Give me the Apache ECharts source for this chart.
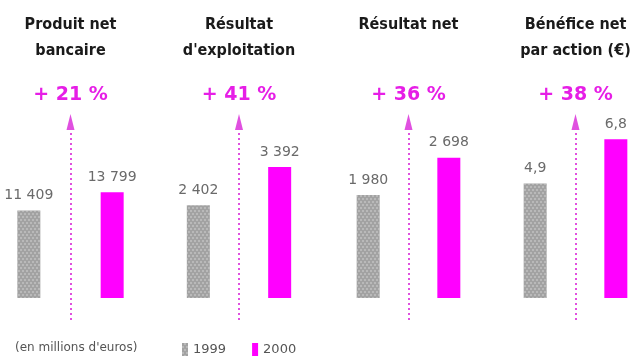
<!DOCTYPE html>
<html>
<head>
<meta charset="utf-8">
<script src="https://cdn.jsdelivr.net/npm/echarts@6/dist/echarts.min.js"></script>
<style>
html, body { margin: 0; padding: 0; background: #fff; }
#main { width: 638px; height: 362px; }
</style>
</head>
<body>
<div id="main"></div>
<script>
// chart data
var titles = ['Produit net\nbancaire', "Résultat\nd'exploitation", 'Résultat net', 'Bénéfice net\npar action (€)'];
var values1999 = [11409, 2402, 1980, 4.9];
var values2000 = [13799, 3392, 2698, 6.8];
var growth = ['+ 21 %', '+ 41 %', '+ 36 %', '+ 38 %'];
var slots = ['1999', 'variation', '2000'];
var axisMax = [22977, 4560, 3385, 7.54];
var unitText = "(en millions d'euros)";

// panel layout
var gridLeft = [8, 178, 348, 515];
var gridWidth = [125, 122, 121, 121];

var chart = echarts.init(document.getElementById('main'));

function fmt(v) {
	if (v % 1 !== 0) return String(v).replace('.', ',');
	return String(v).replace(/\B(?=(\d{3})+(?!\d))/g, ' ');
}

var labelStyle = {
	show: true,
	position: 'top',
	distance: 8,
	fontFamily: 'DejaVu Sans',
	fontSize: 14,
	color: '#6a6a6a',
	formatter: function (p) { return fmt(p.value); }
};

var grids = [], xAxes = [], yAxes = [], series = [], title = [];

titles.forEach(function (t, i) {
	var cx = gridLeft[i] + gridWidth[i] / 2;
	grids.push({ left: gridLeft[i], width: gridWidth[i], top: 122, bottom: 42 });
	xAxes.push({ type: 'category', gridIndex: i, data: slots, show: false });
	yAxes.push({ type: 'value', gridIndex: i, min: -axisMax[i] / 8, max: axisMax[i], show: false });

	title.push({
		text: t, left: cx, top: 12, textAlign: 'center', padding: 0,
		textStyle: { fontFamily: 'DejaVu Sans Condensed', fontWeight: 'bold', fontSize: 16, lineHeight: 26, color: '#1a1a1a' }
	});
	title.push({
		text: growth[i], left: cx, top: 86, textAlign: 'center', padding: 0,
		textStyle: { fontFamily: 'DejaVu Sans', fontWeight: 'bold', fontSize: 19, color: '#e61ee6' }
	});

	series.push({
		name: '1999', type: 'bar', xAxisIndex: i, yAxisIndex: i,
		barWidth: 23, barGap: '-100%',
		data: slots.map(function (s, j) { return j === 0 ? values1999[i] : '-'; }),
		itemStyle: {
			color: '#a2a2a2',
			decal: {
				symbol: 'circle', symbolSize: 0.8,
				color: 'rgba(225,225,225,0.85)',
				dashArrayX: [[2, 2], [0, 2, 2, 0]],
				dashArrayY: [2, 1]
			}
		},
		label: labelStyle
	});
	series.push({
		name: '2000', type: 'bar', xAxisIndex: i, yAxisIndex: i,
		barWidth: 23, barGap: '-100%', clip: false,
		data: slots.map(function (s, j) { return j === 2 ? values2000[i] : '-'; }),
		itemStyle: { color: '#ff00ff' },
		label: labelStyle,
		markLine: {
			silent: true,
			symbol: ['none', 'triangle'],
			lineStyle: { color: '#e050e0', type: [2, 3], width: 2 },
			itemStyle: { color: '#e93be9' },
			label: { show: false },
			data: [{ xAxis: slots[1], symbolSize: [10, 22] }]
		}
	});
});

title.push({
	text: unitText, left: 15, top: 342, padding: 0,
	textStyle: { fontFamily: 'DejaVu Sans', fontWeight: 'normal', fontSize: 12, color: '#555' }
});

chart.setOption({
	animation: false,
	aria: { enabled: true, decal: { show: false } },
	title: title,
	legend: {
		data: ['1999', '2000'],
		left: 182, top: 343, padding: 0,
		icon: 'rect', itemWidth: 6, itemHeight: 13, itemGap: 26,
		selectedMode: false,
		textStyle: { fontFamily: 'DejaVu Sans', fontSize: 13, color: '#555' }
	},
	grid: grids,
	xAxis: xAxes,
	yAxis: yAxes,
	series: series
});
</script>
</body>
</html>
